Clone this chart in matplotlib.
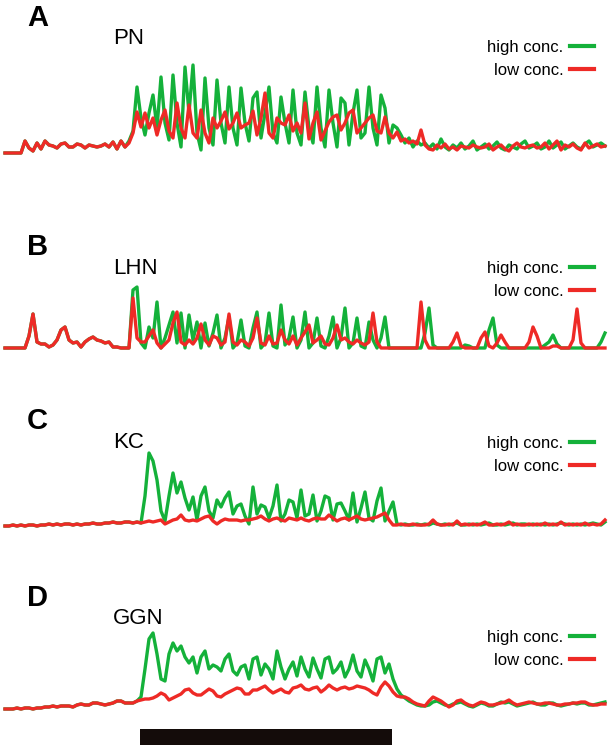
import numpy as np
import matplotlib
matplotlib.use('Agg')
import matplotlib.pyplot as plt
from matplotlib.lines import Line2D

plt.rcParams['font.family'] = ['Liberation Sans', 'DejaVu Sans']

# ---------------- data (response amplitude, arbitrary units; one value per time bin) ----------------
pn_low = [0, 0, 0, 0, 0, 12, 5, 2, 10, 4, 12, 8, 7, 5, 9, 10, 6, 6, 9, 8,
          5, 8, 7, 6, 7, 9, 6, 11, 4, 12, 6, 10, 20, 41, 26, 40, 25, 35, 18, 33,
          43, 22, 15, 50, 25, 15, 48, 20, 15, 43, 20, 10, 35, 25, 32, 41, 24, 30, 40, 25,
          28, 30, 42, 18, 35, 60, 20, 15, 35, 30, 28, 38, 22, 30, 20, 50, 14, 30, 41, 13,
          22, 31, 36, 38, 23, 30, 40, 43, 20, 25, 30, 35, 38, 22, 20, 36, 20, 15, 21, 12,
          14, 10, 12, 9, 23, 8, 4, 3, 8, 5, 9, 4, 6, 3, 7, 6, 5, 8, 6, 5,
          6, 9, 3, 6, 8, 4, 2, 7, 10, 6, 5, 7, 8, 5, 6, 10, 4, 8, 12, 3,
          8, 6, 9, 5, 3, 10, 5, 7, 9, 6, 7]
pn_high = [0, 0, 0, 0, 0, 12, 5, 2, 10, 4, 12, 8, 7, 5, 9, 10, 6, 6, 9, 8,
           5, 8, 7, 6, 7, 9, 6, 11, 4, 12, 6, 12, 22, 66, 35, 18, 40, 58, 25, 76,
           30, 13, 78, 30, 6, 86, 40, 88, 20, 3, 75, 25, 8, 73, 30, 10, 66, 25, 8, 65,
           30, 12, 55, 61, 15, 40, 66, 20, 10, 56, 30, 10, 63, 20, 8, 61, 25, 10, 66, 25,
           6, 63, 30, 6, 55, 50, 8, 40, 63, 15, 20, 66, 25, 8, 58, 45, 10, 28, 25, 18,
           10, 15, 6, 12, 8, 10, 5, 9, 4, 14, 6, 3, 8, 5, 10, 4, 7, 12, 3, 6,
           9, 4, 7, 11, 5, 3, 8, 6, 4, 9, 12, 5, 7, 10, 4, 6, 12, 5, 8, 11,
           4, 7, 10, 6, 4, 9, 12, 6, 8, 10, 7]

lhn_low = [0, 0, 0, 0, 0, 0, 12, 34, 6, 4, 4, 1, 3, 8, 18, 21, 8, 5, 6, 1,
           6, 9, 11, 8, 7, 5, 6, 1, 1, 0, 0, 0, 50, 10, 6, 6, 12, 18, 5, 0,
           4, 8, 25, 36, 6, 3, 8, 4, 10, 24, 8, 3, 12, 10, 3, 6, 34, 6, 3, 8,
           6, 2, 10, 30, 5, 3, 12, 4, 5, 18, 8, 4, 12, 3, 10, 16, 23, 5, 8, 12,
           4, 3, 10, 23, 8, 10, 6, 4, 8, 5, 3, 6, 35, 6, 0, 0, 0, 0, 0, 0,
           0, 0, 0, 0, 46, 8, 0, 0, 0, 0, 0, 0, 6, 15, 2, 0, 0, 0, 0, 10,
           16, 2, 0, 5, 13, 6, 0, 0, 0, 0, 0, 6, 21, 12, 0, 0, 0, 2, 2, 0,
           0, 0, 8, 39, 5, 0, 0, 0, 0, 0, 0]
lhn_high = [0, 0, 0, 0, 0, 0, 12, 34, 6, 4, 4, 1, 3, 8, 18, 21, 8, 5, 6, 1,
            6, 9, 11, 8, 7, 5, 6, 1, 1, 0, 0, 0, 58, 61, 5, 0, 21, 10, 46, 0,
            10, 23, 36, 5, 35, 0, 33, 8, 26, 0, 25, 2, 15, 33, 0, 10, 31, 0, 5, 28,
            2, 0, 20, 36, 0, 5, 35, 2, 0, 43, 3, 10, 31, 0, 8, 36, 0, 5, 30, 2,
            0, 12, 31, 0, 10, 40, 0, 5, 30, 2, 0, 26, 8, 0, 10, 31, 0, 0, 0, 0,
            0, 0, 0, 0, 0, 15, 40, 3, 0, 0, 0, 0, 0, 0, 0, 3, 2, 0, 0, 0,
            0, 18, 30, 3, 0, 0, 0, 0, 0, 0, 0, 0, 0, 0, 0, 3, 6, 13, 4, 0,
            0, 0, 0, 0, 0, 0, 0, 0, 0, 6, 15]

kc_low = [0, 0, 1, 0, 1, 0, 1, 1, 0, 1, 1, 2, 1, 2, 1, 2, 2, 1, 2, 1,
          2, 2, 3, 2, 2, 3, 3, 4, 3, 3, 4, 4, 3, 4, 3, 4, 5, 4, 5, 6,
          2, 4, 6, 7, 11, 6, 5, 6, 5, 7, 9, 10, 5, 2, 5, 7, 6, 6, 6, 5,
          6, 6, 7, 8, 10, 7, 5, 7, 8, 6, 5, 8, 7, 6, 8, 6, 5, 7, 8, 7,
          7, 11, 8, 5, 7, 8, 6, 8, 10, 7, 6, 7, 8, 9, 11, 13, 6, 1, 1, 2,
          1, 1, 2, 1, 1, 1, 2, 6, 2, 1, 1, 2, 1, 5, 1, 2, 1, 2, 1, 2,
          4, 1, 1, 2, 1, 2, 4, 1, 2, 1, 1, 2, 1, 2, 1, 3, 1, 2, 1, 4,
          1, 2, 1, 2, 1, 3, 1, 2, 1, 2, 6]
kc_high = [0, 0, 1, 0, 1, 0, 1, 1, 0, 1, 1, 2, 1, 2, 1, 2, 2, 1, 2, 1,
           2, 2, 3, 2, 2, 3, 3, 4, 3, 3, 4, 4, 3, 4, 3, 30, 73, 65, 46, 15,
           5, 30, 53, 33, 44, 28, 16, 29, 6, 30, 39, 15, 8, 26, 19, 28, 34, 12, 20, 22,
           10, 2, 39, 12, 21, 19, 8, 20, 41, 5, 12, 26, 24, 8, 36, 10, 12, 31, 5, 15,
           30, 28, 6, 22, 23, 15, 6, 33, 4, 18, 34, 8, 5, 25, 38, 5, 15, 24, 2, 1,
           2, 1, 1, 2, 1, 2, 1, 3, 2, 1, 2, 1, 2, 3, 1, 1, 2, 1, 2, 1,
           2, 3, 1, 1, 2, 1, 2, 3, 1, 2, 2, 1, 2, 1, 2, 1, 2, 1, 2, 3,
           2, 1, 2, 1, 2, 1, 2, 3, 2, 1, 4]

ggn_low = [0, 0, 0, 1, 0, 1, 1, 0, 1, 1, 2, 2, 3, 2, 3, 3, 3, 2, 4, 5,
           4, 4, 6, 6, 5, 4, 5, 6, 8, 8, 6, 6, 6, 8, 9, 10, 10, 11, 13, 16,
           14, 9, 11, 13, 15, 19, 20, 16, 14, 14, 17, 20, 18, 13, 12, 15, 17, 19, 21, 20,
           15, 15, 19, 19, 21, 23, 19, 16, 18, 20, 17, 16, 21, 22, 24, 20, 19, 21, 22, 17,
           20, 24, 21, 19, 21, 22, 20, 21, 23, 22, 21, 19, 16, 14, 22, 27, 23, 17, 13, 12,
           12, 10, 7, 5, 4, 3, 8, 12, 10, 8, 5, 2, 4, 8, 9, 6, 4, 3, 5, 7,
           6, 4, 4, 5, 6, 7, 9, 6, 4, 5, 6, 7, 6, 5, 5, 6, 6, 5, 4, 4,
           5, 5, 6, 6, 7, 7, 5, 4, 4, 5, 5]
ggn_high = [0, 0, 0, 1, 0, 1, 1, 0, 1, 1, 2, 2, 3, 2, 3, 3, 3, 2, 4, 5,
            4, 4, 6, 6, 5, 4, 5, 6, 8, 8, 6, 6, 6, 8, 12, 40, 70, 76, 55, 30,
            28, 55, 66, 58, 63, 52, 46, 52, 36, 52, 58, 40, 44, 42, 38, 50, 55, 38, 34, 42,
            44, 30, 50, 52, 34, 45, 40, 30, 58, 42, 30, 40, 47, 33, 52, 40, 32, 51, 40, 31,
            50, 52, 36, 40, 47, 32, 40, 54, 38, 32, 49, 40, 28, 50, 52, 36, 45, 30, 20, 14,
            11, 8, 6, 4, 3, 3, 4, 7, 8, 6, 4, 3, 5, 6, 7, 5, 3, 2, 4, 6,
            5, 3, 3, 5, 7, 6, 7, 5, 3, 4, 5, 6, 7, 5, 4, 4, 6, 6, 4, 3,
            4, 5, 6, 5, 6, 6, 4, 4, 5, 6, 7]

panel_letters = ['A', 'B', 'C', 'D']
cell_types = ['PN', 'LHN', 'KC', 'GGN']
high_series = [pn_high, lhn_high, kc_high, ggn_high]
low_series = [pn_low, lhn_low, kc_low, ggn_low]
legend_labels = ['high conc.', 'low conc.']
stim_on, stim_off = 33.75, 96.75   # odor stimulus (time bins)

GREEN = '#14b13a'
RED = '#ee2a26'

# ---------------- layout (pixels) ----------------
W, H = 610, 745
fig = plt.figure(figsize=(W / 100, H / 100), dpi=100)
baselines = [153, 348, 526, 709]
letter_y = [18, 247, 421, 598]
name_y = [38, 268, 443, 619]
legend_y = [47, 268, 443, 637]

for i in range(4):
    base = baselines[i]
    ax = fig.add_axes([5 / W, 1 - (base + 40) / H, 600 / W, 140 / H])
    ax.set_xlim(0, 150)
    ax.set_ylim(-40, 100)
    ax.axis('off')
    t = np.arange(len(high_series[i]))
    ax.plot(t, high_series[i], color=GREEN, lw=2.4, solid_joinstyle='round', clip_on=False)
    ax.plot(t, low_series[i], color=RED, lw=2.4, solid_joinstyle='round', clip_on=False)
    if i == 3:
        ax.bar(stim_on, 16, width=stim_off - stim_on, bottom=-36, align='edge',
               color='#140c0a', clip_on=False)

    fig.text(27 / W, 1 - letter_y[i] / H, panel_letters[i], fontsize=21,
             fontweight='bold', ha='left', va='center')
    fig.text(113 / W, 1 - name_y[i] / H, cell_types[i], fontsize=16,
             ha='left', va='center')
    handles = [Line2D([], [], color=GREEN, lw=3), Line2D([], [], color=RED, lw=3)]
    fig.legend(handles, legend_labels, loc='center right',
               bbox_to_anchor=(594 / W, 1 - (legend_y[i] + 12) / H),
               markerfirst=False, frameon=False, fontsize=12,
               handlelength=1.45, handletextpad=0.4, labelspacing=0.45,
               borderpad=0, borderaxespad=0)

fig.savefig('out.png', dpi=100)
